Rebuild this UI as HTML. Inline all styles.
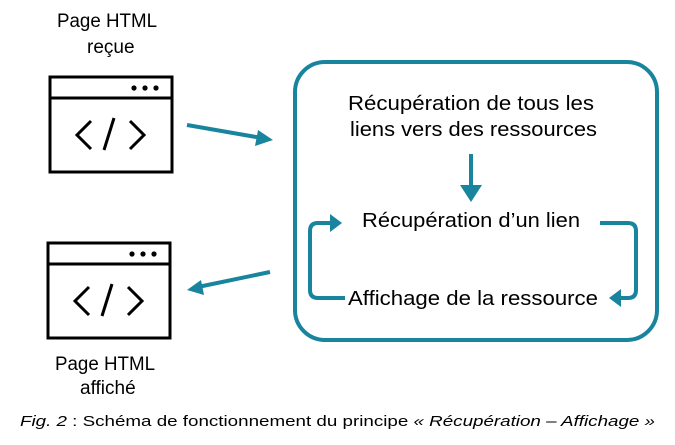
<!DOCTYPE html>
<html><head><meta charset="utf-8"><style>
body{margin:0;background:#fff;width:675px;height:445px;overflow:hidden}
svg{display:block}
text{font-family:"Liberation Sans",Arial,sans-serif;fill:#000}
</style></head><body>
<svg width="675" height="445" viewBox="0 0 675 445">
<g font-size="19">
<text x="57" y="27" textLength="100" lengthAdjust="spacingAndGlyphs">Page HTML</text>
<text x="87" y="53">reçue</text>
<text x="55" y="370" textLength="100" lengthAdjust="spacingAndGlyphs">Page HTML</text>
<text x="80" y="394">affiché</text>
</g>
<g font-size="20.5">
<text x="348" y="110" textLength="246" lengthAdjust="spacingAndGlyphs">Récupération de tous les</text>
<text x="350" y="136" textLength="247" lengthAdjust="spacingAndGlyphs">liens vers des ressources</text>
<text x="362" y="227" textLength="218" lengthAdjust="spacingAndGlyphs">Récupération d’un lien</text>
<text x="348" y="305" textLength="250" lengthAdjust="spacingAndGlyphs">Affichage de la ressource</text>
</g>
<g fill="none" stroke="#000" stroke-width="3">
<rect x="50" y="77" width="122" height="95"/>
<line x1="50" y1="98" x2="172" y2="98"/>
<path d="M91 121 L77 135 L91 149 M130 121 L144 135 L130 149 M114 118 L104 150"/>
<rect x="48" y="243" width="122" height="95"/>
<line x1="48" y1="264" x2="170" y2="264"/>
<path d="M89 287 L75 301 L89 315 M128 287 L142 301 L128 315 M112 284 L102 316"/>
</g>
<g fill="#000"><circle cx="134" cy="88" r="2.6"/><circle cx="145" cy="88" r="2.6"/><circle cx="156" cy="88" r="2.6"/>
<circle cx="132" cy="254" r="2.6"/><circle cx="143" cy="254" r="2.6"/><circle cx="154" cy="254" r="2.6"/></g>
<g stroke="#18849e" stroke-width="4" fill="none">
<rect x="295" y="62" width="362" height="278" rx="30"/>
<line x1="187" y1="125" x2="262" y2="138"/>
<line x1="270" y1="272" x2="198" y2="287"/>
<line x1="471" y1="154" x2="471" y2="186"/>
<path d="M345 298 L318 298 Q310 298 310 290 L310 231 Q310 223 318 223 L332 223"/>
<path d="M600 223 L628 223 Q636 223 636 231 L636 290 Q636 298 628 298 L620 298"/>
</g>
<g fill="#18849e">
<polygon points="273,140 258,130 255,146"/>
<polygon points="187,290 201,280 204,295"/>
<polygon points="460,185 482,185 471,202"/>
<polygon points="342,223 330,214 330,232"/>
<polygon points="609,298 621,289 621,307"/>
</g>
<text x="20" y="426" font-size="15" textLength="635" lengthAdjust="spacingAndGlyphs"><tspan font-style="italic">Fig. 2</tspan> : Schéma de fonctionnement du principe <tspan font-style="italic">« Récupération – Affichage »</tspan></text>
</svg>
</body></html>
